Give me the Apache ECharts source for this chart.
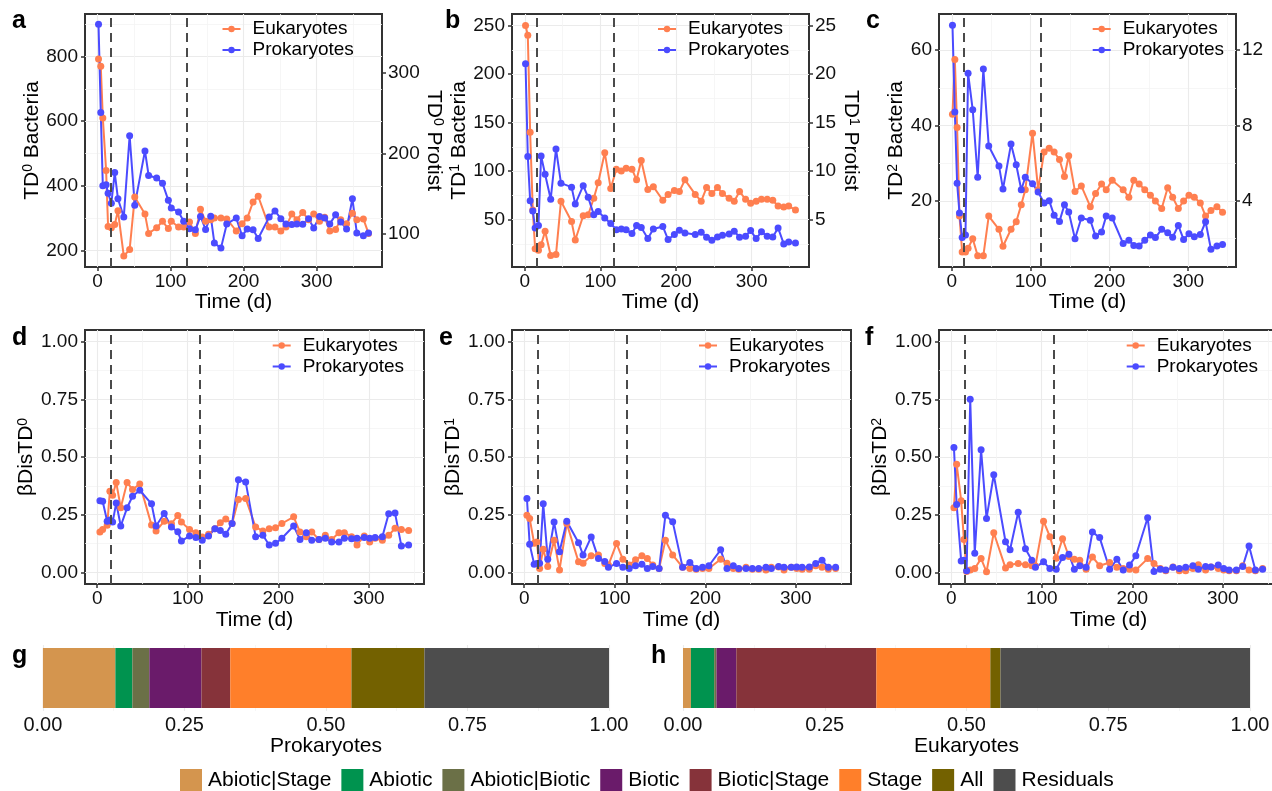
<!DOCTYPE html>
<html>
<head>
<meta charset="utf-8">
<script src="https://cdn.jsdelivr.net/npm/echarts@6.0.0/dist/echarts.min.js"></script>
<style>
html, body { margin: 0; padding: 0; background: #fff; }
#chart { width: 1272px; height: 791px; }
</style>
</head>
<body>
<div id="chart"></div>
<script>
// ---- data ----
// panel a: TD0
var daysA = [1.4, 4.5, 7.3, 11.8, 14.5, 19, 23.6, 28, 36, 44, 51, 65, 70, 81, 89, 97, 101, 111, 118, 126,
    134, 141, 148, 155, 160, 169, 177, 190, 198, 205, 213, 220, 235, 243, 251, 258, 266, 273, 281, 289,
    296, 304, 311, 318, 326, 333, 341, 349, 355, 364, 371];
var bacteriaTD0 = [900, 627, 400, 403, 377, 346, 441, 360, 303, 555, 340, 508, 432, 424, 408, 355, 331, 319, 290, 267,
    264, 305, 265, 306, 223, 207, 282, 300, 245, 266, 264, 237, 303, 322, 298, 282, 280, 282, 281, 298,
    269, 305, 300, 282, 310, 288, 266, 360, 254, 245, 254];
var protistTD0 = [317, 308, 244, 179, 109.5, 108, 112, 129, 73, 81, 146, 125, 101, 108, 116, 107, 116, 109, 109, 115,
    101, 131, 116, 118, 120, 120, 119, 104, 113, 120, 140, 147, 109, 109, 104, 109, 125, 118, 127, 118,
    125, 116, 121, 104, 106, 118, 113, 126, 118, 119, 101];

// panel b: TD1
var daysB = [0.9, 3.9, 7, 10.5, 13.6, 18, 21.5, 26.8, 34.2, 41.2, 47.8, 61.8, 66.7, 77.2, 83.8, 91.2, 97, 105.7, 113.6, 121,
    127.6, 134, 141.7, 147.8, 154, 162.7, 170, 182.5, 189.5, 197.8, 204.4, 211.8, 225.4, 233.3, 240.4, 247.4, 254.8, 261.4, 270.2, 277,
    284, 292, 298.7, 306, 313, 320.6, 328, 335, 342.5, 349, 358];
var bacteriaTD1 = [210.7, 115, 69.5, 59, 41.5, 44, 115.6, 96.8, 71, 122.8, 87.6, 83.5, 66, 85, 73, 55, 58.5, 51.7, 46, 39.7,
    40.4, 39.7, 35.6, 44, 42, 30.5, 40.4, 43, 29.5, 34.6, 39, 36.3, 34.6, 37, 31.9, 28.8, 32.2, 34, 35.3, 38,
    31.9, 33, 38.7, 30.5, 37.4, 33, 32, 41.5, 25, 27, 26];
var protistTD1 = [25, 24, 14, 6, 2, 1.85, 2.4, 3.8, 1.3, 1.4, 6.9, 4.8, 2.9, 5.4, 5.5, 7.2, 8.8, 11.9, 8.2, 10.2,
    10, 10.3, 10.2, 9.1, 11.1, 8.1, 8.4, 7, 7.6, 8, 7.9, 9.1, 7.6, 6.9, 8.3, 7.7, 8.3, 7.7, 7.2, 6.9,
    7.9, 7.1, 6.7, 6.9, 7.1, 7.1, 7, 6.4, 6.3, 6.4, 6];

// panel c: TD2
var daysC = [0.8, 3.8, 6.7, 9.7, 13.1, 17.3, 20.6, 26.5, 32.8, 40, 46.8, 59.8, 64.9, 75.1, 81.7, 88.1, 93.2, 102.4, 109.5, 117.1,
    123.5, 129.8, 136.6, 142.9, 148.3, 156.3, 164.3, 175.7, 182.4, 190, 195.9, 203.5, 217.4, 224.6, 230.9, 237.7, 244.8, 252, 258.3, 266.3,
    273.9, 280.2, 287.4, 294.1, 300.9, 307.7, 315.3, 322, 328.8, 336.4, 343.5];
var bacteriaTD2 = [66.6, 43.6, 24.7, 16.8, 10.3, 11, 53.9, 44.2, 26.3, 55, 34.6, 29.3, 23.2, 35.1, 29.6, 23, 26.3, 24.6, 22.4, 19.5,
    20.1, 16.2, 14.6, 19, 17.1, 10, 15.5, 14.9, 10.7, 11.8, 16, 15.5, 8.7, 9.6, 8.2, 8.1, 9.6, 11, 10.3, 12.5,
    11.6, 10.4, 13.5, 9.8, 11.3, 10.5, 11.1, 14.5, 7.2, 8.1, 8.5];
var protistTD2 = [8.6, 11.5, 7.9, 3.2, 1.3, 1.3, 1.5, 2, 1.1, 1.1, 3.2, 2.5, 1.6, 2.5, 2.9, 3.8, 4.6, 7.6, 4.6, 6.6,
    6.8, 6.6, 6.2, 5.3, 6.4, 4.5, 4.8, 3.7, 4.4, 4.9, 4.6, 5.1, 4.6, 4.2, 5.1, 4.9, 4.6, 4.3, 4, 3.6,
    4.7, 4.2, 3.6, 4, 4.3, 4.2, 3.9, 3.2, 3.5, 3.7, 3.4];

// panels d-f: beta dispersion
var daysBeta = [3, 6, 11, 14, 17, 21, 26, 33, 39, 47, 60, 65, 74, 82, 89, 93, 102, 109, 116, 123,
    130, 136, 142, 149, 156, 164, 175, 183, 190, 197, 204, 217, 224, 231, 237, 245, 252, 259, 267, 273,
    281, 287, 295, 301, 307, 315, 322, 329, 336, 344];
var betaProkTD0 = [0.311, 0.308, 0.222, 0.227, 0.218, 0.301, 0.201, 0.28, 0.33, 0.356, 0.297, 0.201, 0.255, 0.197, 0.176, 0.136, 0.158, 0.151, 0.139, 0.158,
    0.189, 0.182, 0.165, 0.212, 0.402, 0.392, 0.155, 0.161, 0.119, 0.126, 0.148, 0.201, 0.143, 0.172, 0.139, 0.143, 0.148, 0.132, 0.132, 0.148,
    0.146, 0.148, 0.151, 0.148, 0.151, 0.155, 0.254, 0.257, 0.115, 0.119];
var betaEukTD0 = [0.175, 0.186, 0.204, 0.352, 0.334, 0.39, 0.28, 0.39, 0.359, 0.383, 0.205, 0.179, 0.222, 0.211, 0.247, 0.218, 0.186, 0.172, 0.154, 0.165,
    0.189, 0.215, 0.232, 0.212, 0.316, 0.32, 0.197, 0.179, 0.189, 0.194, 0.212, 0.241, 0.175, 0.155, 0.175, 0.143, 0.161, 0.143, 0.172, 0.172,
    0.155, 0.119, 0.158, 0.132, 0.148, 0.139, 0.161, 0.191, 0.186, 0.182];
var betaProkTD1 = [0.32, 0.122, 0.036, 0.039, 0.04, 0.298, 0.057, 0.218, 0.09, 0.222, 0.129, 0.076, 0.154, 0.06, 0.047, 0.022, 0.039, 0.022, 0.017, 0.029,
    0.036, 0.017, 0.026, 0.017, 0.248, 0.22, 0.022, 0.043, 0.017, 0.022, 0.029, 0.098, 0.017, 0.029, 0.017, 0.017, 0.017, 0.017, 0.022, 0.017,
    0.026, 0.022, 0.022, 0.024, 0.022, 0.024, 0.039, 0.053, 0.022, 0.022];
var betaEukTD1 = [0.248, 0.234, 0.126, 0.132, 0.017, 0.1, 0.026, 0.139, 0.011, 0.212, 0.046, 0.04, 0.072, 0.076, 0.039, 0.032, 0.125, 0.057, 0.032, 0.055,
    0.072, 0.06, 0.032, 0.017, 0.139, 0.076, 0.022, 0.017, 0.014, 0.017, 0.017, 0.057, 0.04, 0.017, 0.014, 0.022, 0.014, 0.014, 0.011, 0.022,
    0.024, 0.011, 0.022, 0.017, 0.014, 0.014, 0.029, 0.022, 0.014, 0.017];
var betaProkTD2 = [0.541, 0.294, 0.05, 0.053, 0.007, 0.75, 0.083, 0.531, 0.234, 0.423, 0.133, 0.098, 0.261, 0.103, 0.053, 0.022, 0.046, 0.017, 0.014, 0.065,
    0.079, 0.014, 0.029, 0.022, 0.175, 0.151, 0.014, 0.057, 0.011, 0.032, 0.072, 0.237, 0.004, 0.014, 0.011, 0.022, 0.017, 0.022, 0.029, 0.014,
    0.026, 0.024, 0.032, 0.017, 0.011, 0.011, 0.026, 0.115, 0.011, 0.014];
var betaEukTD2 = [0.28, 0.469, 0.311, 0.143, 0.004, 0.011, 0.017, 0.06, 0.003, 0.172, 0.019, 0.033, 0.039, 0.033, 0.029, 0.029, 0.222, 0.155, 0.062, 0.146,
    0.069, 0.057, 0.053, 0.014, 0.067, 0.029, 0.043, 0.022, 0.017, 0.014, 0.011, 0.06, 0.039, 0.017, 0.007, 0.024, 0.007, 0.007, 0.017, 0.033,
    0.011, 0.024, 0.017, 0.011, 0.007, 0.007, 0.029, 0.011, 0.007, 0.017];

// stage boundaries (dashed lines)
var stageA = [17.7, 122.7];
var stageB = [15.4, 117.5];
var stageC = [15.6, 113.4];
var stageBeta = [15, 113];

// panels g-h: variance partitioning
var fractionNames = ['Abiotic|Stage', 'Abiotic', 'Abiotic|Biotic', 'Biotic', 'Biotic|Stage', 'Stage', 'All', 'Residuals'];
var fractionColors = ['#D4954E', '#00934F', '#6B7047', '#6A1B6A', '#86333A', '#FF7F2A', '#736100', '#4D4D4D'];
var prokFractions = [0.128, 0.030, 0.030, 0.092, 0.051, 0.214, 0.129, 0.326];
var eukFractions = [0.014, 0.041, 0.004, 0.035, 0.247, 0.201, 0.018, 0.440];

// tick values
var timeTicks = [0, 100, 200, 300];
var timeMinor = [50, 150, 250, 350];
var betaTicks = [0, 0.25, 0.5, 0.75, 1];
var betaMinor = [0.125, 0.375, 0.625, 0.875];
var fracTicks = [0, 0.25, 0.5, 0.75, 1];
var fracMinor = [0.125, 0.375, 0.625, 0.875];

// ---- styling ----
var FONT = '"Liberation Sans", Arial, Helvetica, sans-serif';
var ORANGE = '#FF7F50';
var BLUE = '#4B4BFF';
var MAJOR = '#EBEBEB';
var MINOR = '#F4F4F4';
var TXT = '#111';

var chart = echarts.init(document.getElementById('chart'));

var option = {
    backgroundColor: '#fff',
    animation: false,
    textStyle: { fontFamily: FONT },
    grid: [], xAxis: [], yAxis: [], series: [], legend: [], graphic: []
};

function supName(pre, sup, post) {
    return '{m|' + pre + '}{s|' + sup + '}' + (post ? '{m|' + post + '}' : '');
}
var nameStyle = {
    fontSize: 21, color: '#000', fontFamily: FONT,
    rich: {
        m: { fontSize: 21, color: '#000', fontFamily: FONT },
        s: { fontSize: 14, color: '#000', fontFamily: FONT, verticalAlign: 'top' }
    }
};

function valueAxis(g, range, ticks, extra) {
    var ax = {
        type: 'value', gridIndex: g, min: range[0], max: range[1],
        axisLine: { show: false, onZero: false },
        axisTick: { show: true, length: 4, lineStyle: { color: '#333', width: 1.5 }, customValues: ticks },
        axisLabel: { customValues: ticks, fontSize: 19, color: TXT, fontFamily: FONT },
        splitLine: { show: true, lineStyle: { color: MAJOR, width: 1.1 } }
    };
    for (var k in extra) ax[k] = extra[k];
    return ax;
}
function minorAxis(g, range, ticks, pos) {
    return {
        type: 'value', gridIndex: g, min: range[0], max: range[1], position: pos,
        axisLine: { show: false, onZero: false },
        axisTick: { show: false, customValues: ticks },
        axisLabel: { show: false },
        splitLine: { show: true, lineStyle: { color: MINOR, width: 0.8 } }
    };
}

function lineSeries(name, color, xi, yi, days, vals) {
    return {
        name: name, type: 'line', xAxisIndex: xi, yAxisIndex: yi,
        data: days.map(function (d, i) { return [d, vals[i]]; }),
        symbol: 'circle', symbolSize: 7, showSymbol: true,
        lineStyle: { color: color, width: 2 },
        itemStyle: { color: color },
        emphasis: { disabled: true }
    };
}

function addLinePanel(p) {
    var g = option.grid.length;
    option.grid.push({
        left: p.box[0], top: p.box[1], width: p.box[2], height: p.box[3],
        show: true, borderColor: '#333', borderWidth: 2, backgroundColor: '#fff',
        containLabel: false, outerBoundsMode: 'none'
    });
    var xi = option.xAxis.length;
    option.xAxis.push(valueAxis(g, p.xRange, timeTicks, {
        position: 'bottom',
        name: 'Time (d)', nameLocation: 'middle', nameGap: p.xNameGap,
        nameTextStyle: { fontSize: 21, color: '#000', fontFamily: FONT }
    }));
    option.xAxis[xi].axisLabel.margin = p.xLabelMargin;
    option.xAxis.push(minorAxis(g, p.xRange, timeMinor, 'top'));

    var yl = option.yAxis.length;
    option.yAxis.push(valueAxis(g, p.yRange, p.yTicks, {
        position: 'left',
        name: p.yName, nameLocation: 'middle', nameGap: p.yNameGap, nameRotate: 90,
        nameTextStyle: nameStyle
    }));
    option.yAxis[yl].axisLabel.margin = 7;
    if (p.yFmt) option.yAxis[yl].axisLabel.formatter = p.yFmt;
    var yr = yl;
    if (p.rRange) {
        yr = option.yAxis.length;
        var r = valueAxis(g, p.rRange, p.rTicks, {
            position: 'right',
            name: p.rName, nameLocation: 'middle', nameGap: p.rNameGap, nameRotate: -90,
            nameTextStyle: nameStyle
        });
        r.splitLine = { show: false };
        r.axisLabel.margin = 6;
        option.yAxis.push(r);
    }
    option.yAxis.push(minorAxis(g, p.yRange, p.yMinor, p.rRange ? 'left' : 'right'));

    var euk = lineSeries('Eukaryotes', ORANGE, xi, yr, p.days, p.euk);
    euk.markLine = {
        silent: true, symbol: ['none', 'none'], label: { show: false },
        lineStyle: { color: '#4A4A4A', width: 2, type: [9, 6] },
        emphasis: { disabled: true },
        data: p.stages.map(function (s) { return { xAxis: s }; })
    };
    option.series.push(euk);
    option.series.push(lineSeries('Prokaryotes', BLUE, xi, yl, p.days, p.prok));

    option.legend.push({
        data: ['Eukaryotes', 'Prokaryotes'], orient: 'vertical', selectedMode: false,
        left: p.legend[0], top: p.legend[1], padding: 0, itemGap: 2,
        itemWidth: 18, itemHeight: 8,
        textStyle: { fontSize: 19, color: '#000', fontFamily: FONT, padding: [0, 0, 0, 7] }
    });
    option.graphic.push({
        type: 'text', left: p.letter[0], top: p.letter[1],
        style: { text: p.letter[2], font: 'bold 25px ' + FONT, fill: '#000' }
    });
}

var f2 = function (v) { return v.toFixed(2); };

addLinePanel({
    box: [85, 14, 297, 253], xRange: [-17.1, 389.5], xNameGap: 25, xLabelMargin: 5,
    yRange: [148.5, 932], yTicks: [200, 400, 600, 800], yMinor: [300, 500, 700, 900],
    yName: supName('TD', '0', ' Bacteria'), yNameGap: 41,
    rRange: [59.4, 372.8], rTicks: [100, 200, 300], rName: supName('TD', '0', ' Protist'), rNameGap: 36,
    days: daysA, euk: protistTD0, prok: bacteriaTD0, stages: stageA,
    legend: [221.5, 19.5], letter: [12, 9, 'a']
});
addLinePanel({
    box: [512, 14, 297, 253], xRange: [-17, 375.9], xNameGap: 25, xLabelMargin: 5,
    yRange: [1.2, 261.9], yTicks: [50, 100, 150, 200, 250], yMinor: [25, 75, 125, 175, 225],
    yName: supName('TD', '1', ' Bacteria'), yNameGap: 37,
    rRange: [0.12, 26.19], rTicks: [5, 10, 15, 20, 25], rName: supName('TD', '1', ' Protist'), rNameGap: 25,
    days: daysB, euk: protistTD1, prok: bacteriaTD1, stages: stageB,
    legend: [657, 19.5], letter: [445, 9, 'b']
});
addLinePanel({
    box: [939, 14, 297, 253], xRange: [-16.3, 360.6], xNameGap: 25, xLabelMargin: 5,
    yRange: [2.5, 69.6], yTicks: [20, 40, 60], yMinor: [10, 30, 50],
    yName: supName('TD', '2', ' Bacteria'), yNameGap: 32,
    rRange: [0.5, 13.92], rTicks: [4, 8, 12], rName: supName('TD', '2', ' Protist'), rNameGap: 22,
    days: daysC, euk: protistTD2, prok: bacteriaTD2, stages: stageC,
    legend: [1091.7, 19.5], letter: [866, 9, 'c']
});
addLinePanel({
    box: [85, 330, 339, 254], xRange: [-13.5, 361], xNameGap: 26, xLabelMargin: 5,
    yRange: [-0.05, 1.05], yTicks: betaTicks, yMinor: betaMinor, yFmt: f2,
    yName: supName('βDisTD', '0'), yNameGap: 44,
    days: daysBeta, euk: betaEukTD0, prok: betaProkTD0, stages: stageBeta,
    legend: [271.7, 336], letter: [12, 326, 'd']
});
addLinePanel({
    box: [512, 330, 339, 254], xRange: [-13.5, 361], xNameGap: 26, xLabelMargin: 5,
    yRange: [-0.05, 1.05], yTicks: betaTicks, yMinor: betaMinor, yFmt: f2,
    yName: supName('βDisTD', '1'), yNameGap: 46,
    days: daysBeta, euk: betaEukTD1, prok: betaProkTD1, stages: stageBeta,
    legend: [698, 336], letter: [439, 326, 'e']
});
addLinePanel({
    box: [939, 330, 339, 254], xRange: [-13.5, 361], xNameGap: 26, xLabelMargin: 5,
    yRange: [-0.05, 1.05], yTicks: betaTicks, yMinor: betaMinor, yFmt: f2,
    yName: supName('βDisTD', '2'), yNameGap: 47,
    days: daysBeta, euk: betaEukTD2, prok: betaProkTD2, stages: stageBeta,
    legend: [1125.7, 336], letter: [865, 326, 'f']
});

// ---- stacked fraction bars ----
function addBarPanel(left, width, title, values, stack, letter) {
    var g = option.grid.length;
    option.grid.push({ left: left, top: 645, width: width, height: 66, containLabel: false, outerBoundsMode: 'none' });
    var xi = option.xAxis.length;
    option.xAxis.push({
        type: 'value', gridIndex: g, min: 0, max: 1,
        axisLine: { show: false, onZero: false }, axisTick: { show: false, customValues: fracTicks },
        axisLabel: { customValues: fracTicks, formatter: f2, fontSize: 20, color: TXT, margin: 4, fontFamily: FONT },
        splitLine: { show: true, lineStyle: { color: MAJOR, width: 1.1 } },
        name: title, nameLocation: 'middle', nameGap: 25,
        nameTextStyle: { fontSize: 21, color: '#000', fontFamily: FONT }
    });
    option.xAxis.push(minorAxis(g, [0, 1], fracMinor, 'top'));
    var yi = option.yAxis.length;
    option.yAxis.push({ type: 'category', gridIndex: g, data: [title], show: false });
    fractionNames.forEach(function (n, i) {
        option.series.push({
            name: n, type: 'bar', stack: stack, xAxisIndex: xi, yAxisIndex: yi,
            barWidth: 60, data: [values[i]],
            itemStyle: { color: fractionColors[i] },
            emphasis: { disabled: true }
        });
    });
    option.graphic.push({
        type: 'text', left: letter[0], top: letter[1],
        style: { text: letter[2], font: 'bold 25px ' + FONT, fill: '#000' }
    });
}
addBarPanel(42.9, 566.1, 'Prokaryotes', prokFractions, 'prok', [12, 644, 'g']);
addBarPanel(683, 567, 'Eukaryotes', eukFractions, 'euk', [651, 644, 'h']);

option.legend.push({
    data: fractionNames.map(function (n, i) { return { name: n, icon: 'rect', itemStyle: { color: fractionColors[i] } }; }),
    orient: 'horizontal', selectedMode: false,
    left: 180, top: 769, padding: 0, itemGap: 10,
    itemWidth: 22, itemHeight: 22,
    textStyle: { fontSize: 21, color: '#000', fontFamily: FONT, padding: [0, 0, 0, 1] }
});

chart.setOption(option);
</script>
</body>
</html>
